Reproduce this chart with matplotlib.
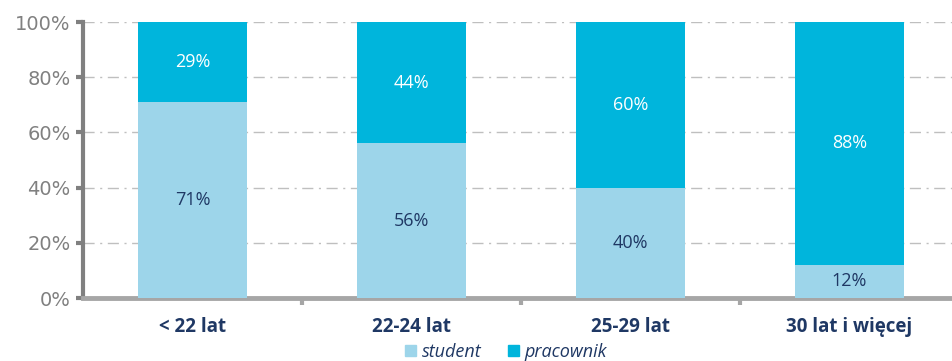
import matplotlib
matplotlib.use("Agg")
import matplotlib.pyplot as plt
from matplotlib.patches import Patch
import numpy as np

categories = ["< 22 lat", "22-24 lat", "25-29 lat", "30 lat i więcej"]
student = [71, 56, 40, 12]
pracownik = [29, 44, 60, 88]
yticks = [0, 20, 40, 60, 80, 100]
ytick_labels = ["0%", "20%", "40%", "60%", "80%", "100%"]

c_student = "#9DD5EA"
c_prac = "#00B5DC"
navy = "#1F3864"
gray = "#808080"

plt.rcParams['font.family'] = ['Open Sans', 'DejaVu Sans']

fig = plt.figure(figsize=(9.52, 3.61), dpi=100)
ax = fig.add_axes([83/952, 1-298/361, 876/952, 276/361])

x = np.arange(len(categories))
w = 0.5
ax.bar(x, student, w, color=c_student, zorder=3)
ax.bar(x, pracownik, w, bottom=student, color=c_prac, zorder=3)

for i in range(len(categories)):
    ax.text(x[i], student[i]/2, f"{student[i]}%", ha="center", va="center",
            color=navy, fontsize=13, zorder=4)
    ax.text(x[i], student[i] + pracownik[i]/2, f"{pracownik[i]}%", ha="center", va="center",
            color="white", fontsize=13, zorder=4)

ax.set_xlim(-0.5, len(categories) - 0.5)
ax.set_ylim(0, 100)
ax.set_yticks(yticks)
ax.set_yticklabels(ytick_labels, color=gray, fontsize=14, family=['DejaVu Sans'])
ax.yaxis.grid(True, color="#BFBFBF", linestyle=(0, (8, 4, 1.5, 4)), linewidth=1, zorder=0)
ax.tick_params(axis="y", length=5, width=3, color=gray, direction="out", pad=4)

ax.set_xticks(x)
ax.set_xticklabels(categories, color=navy, fontsize=13.5, fontweight="bold")
ax.tick_params(axis="x", length=0, pad=14)
ax.set_xticks(np.arange(0.5, len(categories) - 0.5, 1), minor=True)
ax.tick_params(axis="x", which="minor", length=5, width=3, color="#A6A6A6", direction="out")

for s in ["top", "right"]:
    ax.spines[s].set_visible(False)
ax.spines["left"].set_color(gray)
ax.spines["left"].set_linewidth(3)
ax.spines["bottom"].set_color("#A6A6A6")
ax.spines["bottom"].set_linewidth(3.5)
ax.set_axisbelow(True)

handles = [Patch(color=c_student, label="student"), Patch(color=c_prac, label="pracownik")]
leg = fig.legend(handles=handles, loc="center", bbox_to_anchor=(506/952, 1-352/361), ncol=2,
                 frameon=False, prop={"style": "italic", "size": 13},
                 handlelength=0.6, handleheight=0.6, handletextpad=0.3, columnspacing=1.5)
for t in leg.get_texts():
    t.set_color(navy)

fig.savefig("out.png", dpi=100)
